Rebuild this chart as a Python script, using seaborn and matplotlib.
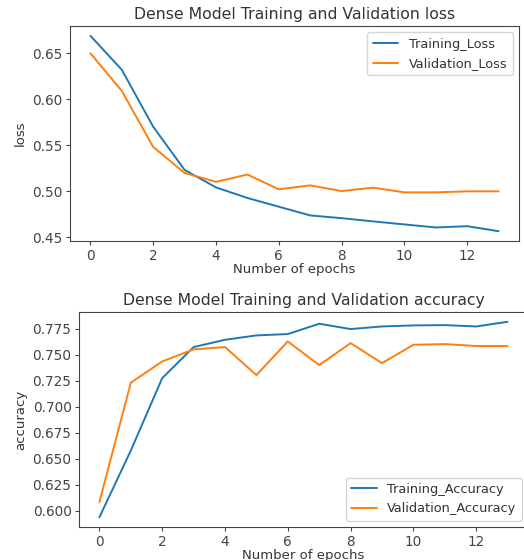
import matplotlib
matplotlib.use("Agg")
import matplotlib.pyplot as plt
import seaborn as sns
import numpy as np

epochs = list(range(14))
train_loss = [0.669, 0.632, 0.570, 0.523, 0.504, 0.4925, 0.483, 0.4735, 0.4705, 0.467, 0.4637, 0.4604, 0.4618, 0.4563]
val_loss = [0.650, 0.609, 0.548, 0.5197, 0.510, 0.518, 0.5019, 0.5062, 0.500, 0.5037, 0.4986, 0.4986, 0.4997, 0.4997]
train_acc = [0.594, 0.658, 0.7276, 0.7574, 0.7644, 0.7686, 0.7699, 0.7798, 0.7747, 0.7772, 0.7782, 0.7785, 0.7772, 0.7817]
val_acc = [0.6086, 0.7232, 0.7436, 0.7552, 0.7574, 0.7305, 0.7628, 0.7401, 0.7612, 0.7420, 0.7596, 0.7603, 0.7584, 0.7584]

sns.set_style("ticks")
plt.rcParams['font.family'] = ['DejaVu Sans']
txt = '#333333'
plt.rcParams.update({'text.color': txt, 'axes.labelcolor': txt,
                     'xtick.color': '#444444', 'ytick.color': '#444444',
                     'axes.edgecolor': '#444444'})

fig = plt.figure(figsize=(5.24, 5.60), dpi=100)
ax1 = fig.add_axes([70/524, 1-241/560, 449/524, 215/560])
ax2 = fig.add_axes([79/524, 1-527/560, 449/524, 215/560])

blue, orange = '#1f77b4', '#ff7f0e'

sns.lineplot(x=epochs, y=train_loss, ax=ax1, color=blue, label='Training_Loss', linewidth=1.4)
sns.lineplot(x=epochs, y=val_loss, ax=ax1, color=orange, label='Validation_Loss', linewidth=1.4)
ax1.set_title('Dense Model Training and Validation loss', fontsize=11.3, pad=5)
ax1.set_xlabel('Number of epochs', fontsize=9.5, labelpad=0)
ax1.set_ylabel('loss', fontsize=9.5)
ax1.set_xticks([0, 2, 4, 6, 8, 10, 12])
ax1.set_yticks([0.45, 0.50, 0.55, 0.60, 0.65])
ax1.legend(loc='upper right', fontsize=9.3)

sns.lineplot(x=epochs, y=train_acc, ax=ax2, color=blue, label='Training_Accuracy', linewidth=1.4)
sns.lineplot(x=epochs, y=val_acc, ax=ax2, color=orange, label='Validation_Accuracy', linewidth=1.4)
ax2.set_title('Dense Model Training and Validation accuracy', fontsize=11.3, pad=5)
ax2.set_xlabel('Number of epochs', fontsize=9.5, labelpad=0)
ax2.set_ylabel('accuracy', fontsize=9.5)
ax2.set_xticks([0, 2, 4, 6, 8, 10, 12])
ax2.set_yticks([0.600, 0.625, 0.650, 0.675, 0.700, 0.725, 0.750, 0.775])
ax2.legend(loc='lower right', fontsize=9.3)

for ax in (ax1, ax2):
    ax.tick_params(labelsize=9.8, length=2.6, pad=2.8)
    for s in ax.spines.values():
        s.set_visible(True)

fig.savefig('out.png', dpi=100)
